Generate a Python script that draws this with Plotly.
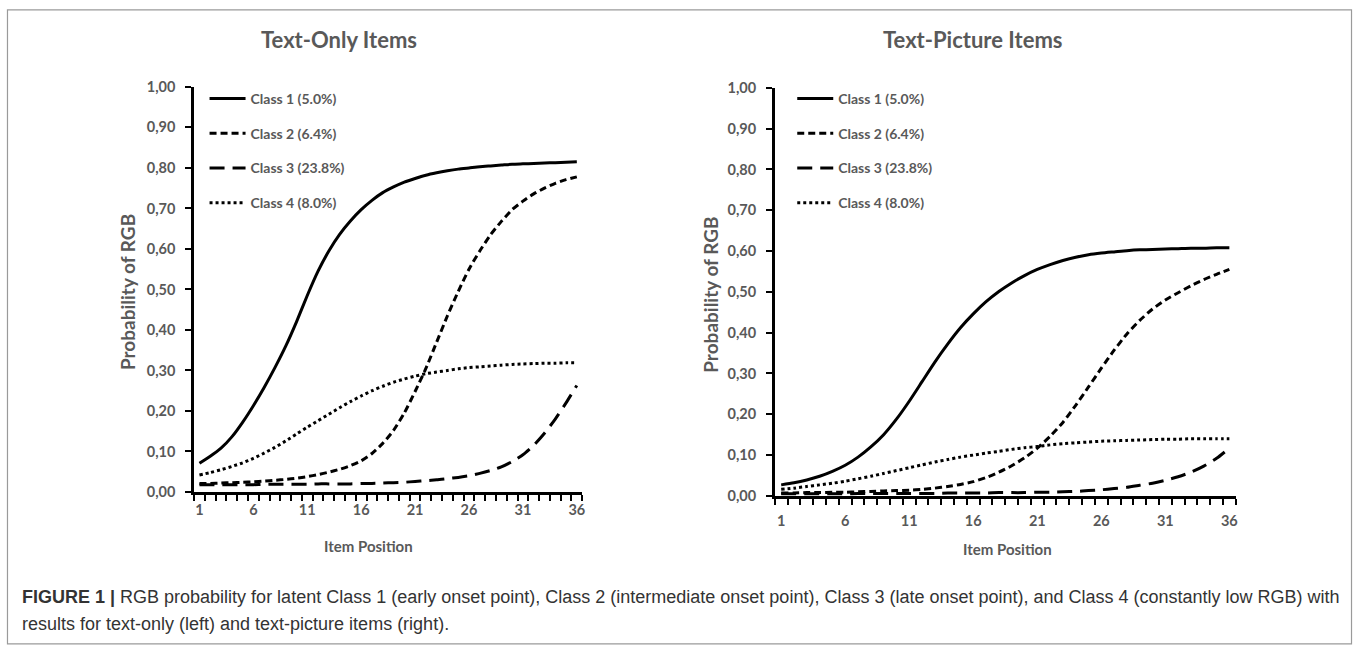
import plotly.graph_objects as go

items = list(range(1, 37))
x_tick_vals = [1, 6, 11, 16, 21, 26, 31, 36]
class_names = ["Class 1 (5.0%)", "Class 2 (6.4%)", "Class 3 (23.8%)", "Class 4 (8.0%)"]
panel_titles = ["Text-Only Items", "Text-Picture Items"]

left_c1 = [0.071, 0.088, 0.108, 0.136, 0.172, 0.213, 0.258, 0.307, 0.360, 0.420, 0.485, 0.545,
           0.595, 0.636, 0.669, 0.697, 0.720, 0.739, 0.753, 0.765, 0.774, 0.782, 0.788, 0.793,
           0.797, 0.800, 0.803, 0.805, 0.807, 0.809, 0.810, 0.811, 0.812, 0.813, 0.814, 0.815]
left_c2 = [0.021, 0.021, 0.022, 0.023, 0.024, 0.025, 0.027, 0.029, 0.031, 0.034, 0.038, 0.043,
           0.049, 0.056, 0.065, 0.077, 0.095, 0.120, 0.152, 0.195, 0.248, 0.305, 0.370, 0.435,
           0.495, 0.550, 0.595, 0.635, 0.668, 0.697, 0.718, 0.736, 0.750, 0.762, 0.771, 0.778]
left_c3 = [0.018, 0.018, 0.018, 0.018, 0.018, 0.018, 0.019, 0.019, 0.019, 0.019, 0.019, 0.020,
           0.020, 0.020, 0.020, 0.021, 0.021, 0.022, 0.023, 0.024, 0.026, 0.028, 0.030, 0.033,
           0.036, 0.040, 0.046, 0.053, 0.062, 0.075, 0.092, 0.115, 0.145, 0.180, 0.220, 0.263]
left_c4 = [0.042, 0.048, 0.055, 0.063, 0.072, 0.083, 0.096, 0.110, 0.126, 0.143, 0.160, 0.176,
           0.192, 0.208, 0.223, 0.237, 0.250, 0.261, 0.271, 0.279, 0.286, 0.292, 0.296, 0.300,
           0.304, 0.307, 0.309, 0.311, 0.313, 0.315, 0.316, 0.317, 0.318, 0.318, 0.319, 0.319]

right_c1 = [0.027, 0.032, 0.039, 0.048, 0.060, 0.075, 0.095, 0.120, 0.150, 0.188, 0.232, 0.280,
            0.328, 0.372, 0.412, 0.446, 0.476, 0.501, 0.522, 0.540, 0.555, 0.567, 0.577, 0.585,
            0.591, 0.595, 0.598, 0.601, 0.603, 0.604, 0.605, 0.606, 0.607, 0.607, 0.608, 0.608]
right_c2 = [0.007, 0.007, 0.008, 0.008, 0.009, 0.009, 0.010, 0.011, 0.012, 0.013, 0.014, 0.016,
            0.019, 0.023, 0.028, 0.035, 0.045, 0.058, 0.074, 0.093, 0.117, 0.146, 0.180, 0.222,
            0.267, 0.313, 0.357, 0.397, 0.430, 0.458, 0.480, 0.498, 0.515, 0.530, 0.543, 0.555]
right_c3 = [0.005, 0.005, 0.005, 0.005, 0.005, 0.005, 0.006, 0.006, 0.006, 0.006, 0.006, 0.006,
            0.006, 0.007, 0.007, 0.007, 0.007, 0.008, 0.008, 0.008, 0.009, 0.009, 0.010, 0.011,
            0.013, 0.015, 0.018, 0.021, 0.026, 0.031, 0.038, 0.047, 0.058, 0.073, 0.092, 0.117]
right_c4 = [0.016, 0.019, 0.023, 0.027, 0.031, 0.036, 0.042, 0.048, 0.055, 0.062, 0.069, 0.076,
            0.083, 0.089, 0.095, 0.100, 0.105, 0.109, 0.114, 0.118, 0.121, 0.125, 0.128, 0.130,
            0.132, 0.134, 0.135, 0.136, 0.137, 0.138, 0.139, 0.139, 0.140, 0.140, 0.140, 0.140]

W, H = 1358, 648
GRAY = "#595959"
FONT = "Lato, Open Sans, sans-serif"
dashes = ["solid", "7px,4px", "15px,8px", "3px,3px"]

def px(x):
    return x / W

def py(y):
    return 1 - y / H

fig = go.Figure()
panels = [
    ([left_c1, left_c2, left_c3, left_c4], "x", "y", "legend"),
    ([right_c1, right_c2, right_c3, right_c4], "x2", "y2", "legend2"),
]
for series, xa, ya, lg in panels:
    for i, vals in enumerate(series):
        fig.add_trace(go.Scatter(
            x=items, y=vals, mode="lines", name=class_names[i],
            line=dict(color="black", width=3, dash=dashes[i], shape="spline", smoothing=0.6),
            xaxis=xa, yaxis=ya, legend=lg, legendgroup=f"{lg}{i}", hoverinfo="skip",
        ))

def xaxis_cfg(domain, anchor, standoff):
    return dict(
        domain=domain, anchor=anchor, range=[0.5, 36.5],
        tickvals=x_tick_vals, ticks="", showgrid=False, zeroline=False,
        showline=True, linecolor="black", linewidth=2.5,
        tickfont=dict(family=FONT, size=14.5, color=GRAY, weight="bold"),
        ticklabelstandoff=standoff,
        minor=dict(tick0=0.5, dtick=1, ticks="outside", ticklen=6, tickwidth=2, tickcolor="black", showgrid=False),
    )

def yaxis_cfg(domain, anchor):
    return dict(
        domain=domain, anchor=anchor, range=[0, 1], dtick=0.1, tickformat=".2f",
        ticks="outside", ticklen=6, tickwidth=2, tickcolor="black",
        showgrid=False, zeroline=False, showline=True, linecolor="black", linewidth=2.5,
        tickfont=dict(family=FONT, size=14.5, color=GRAY, weight="bold"),
        ticklabelstandoff=7,
    )

legend_common = dict(
    bgcolor="rgba(0,0,0,0)", borderwidth=0, xanchor="left", yanchor="top",
    font=dict(family=FONT, size=14, color=GRAY, weight="bold"),
    itemwidth=36, tracegroupgap=13.5, traceorder="grouped", itemclick=False,
)

fig.update_layout(
    width=W, height=H, margin=dict(l=0, r=0, t=0, b=0),
    paper_bgcolor="white", plot_bgcolor="white", separators=",.",
    xaxis=xaxis_cfg([px(194.5), px(583.5)], "y", 3),
    yaxis=yaxis_cfg([py(496), py(80)], "x"),
    xaxis2=xaxis_cfg([px(776.5), px(1238.5)], "y2", 10),
    yaxis2=yaxis_cfg([py(500), py(81)], "x2"),
    legend=dict(x=px(205), y=py(76), **legend_common),
    legend2=dict(x=px(794), y=py(76), **legend_common),
    showlegend=True,
)

annotations = [
    dict(x=px(340), y=py(31), text=panel_titles[0], font=dict(size=22, color=GRAY, weight="bold")),
    dict(x=px(975), y=py(31), text=panel_titles[1], font=dict(size=22, color=GRAY, weight="bold")),
    dict(x=px(128), y=py(291), text="Probability of RGB", textangle=-90, font=dict(size=19, color=GRAY, weight="bold")),
    dict(x=px(712), y=py(293), text="Probability of RGB", textangle=-90, font=dict(size=19, color=GRAY, weight="bold")),
    dict(x=px(369), y=py(551), text="Item Position", font=dict(size=15, color=GRAY, weight="bold")),
    dict(x=px(1010), y=py(555), text="Item Position", font=dict(size=15, color=GRAY, weight="bold")),
]
for a in annotations:
    a.update(xref="paper", yref="paper", showarrow=False, xanchor="center", yanchor="middle")
    a["font"]["family"] = FONT
cap_font = dict(family="Liberation Sans, Arial, sans-serif", size=18, color="#333333")
annotations += [
    dict(x=px(20), y=py(604), xref="paper", yref="paper", showarrow=False, xanchor="left", yanchor="middle",
         text="<b>FIGURE 1 |</b> RGB probability for latent Class 1 (early onset point), Class 2 (intermediate onset point), "
              "Class 3 (late onset point), and Class 4 (constantly low RGB) with",
         font=cap_font),
    dict(x=px(20), y=py(632), xref="paper", yref="paper", showarrow=False, xanchor="left", yanchor="middle",
         text="results for text-only (left) and text-picture items (right).", font=cap_font),
]
fig.update_layout(annotations=annotations)

fig.add_shape(type="rect", xref="paper", yref="paper", x0=px(7.5), x1=px(1354.5), y0=py(652), y1=py(1),
              line=dict(color="#9a9a9a", width=1.2), fillcolor="rgba(0,0,0,0)", layer="below")

fig.write_html("out.html", config={"displayModeBar": False},
               post_script="document.body.style.margin='0';document.body.style.overflow='hidden';")
